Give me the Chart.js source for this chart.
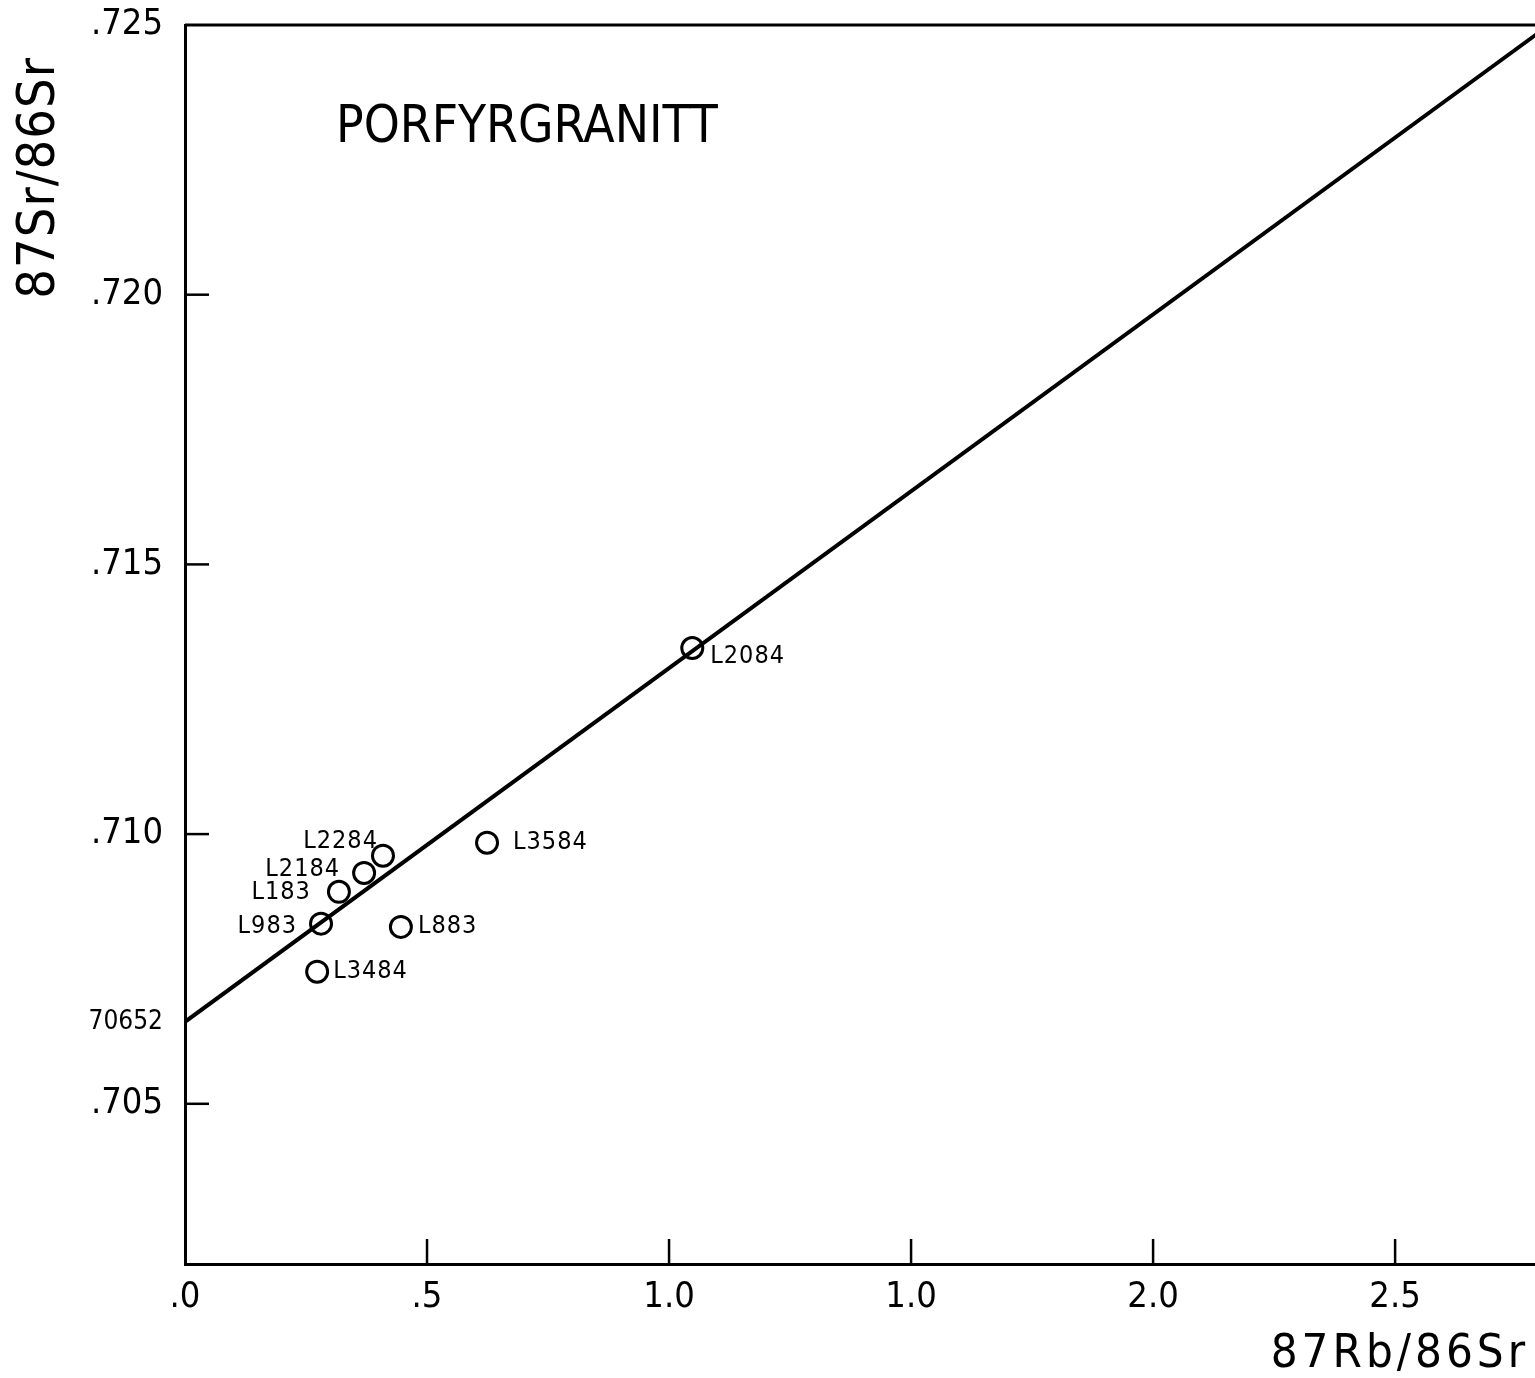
<!DOCTYPE html>
<html lang="no">
<head>
<meta charset="UTF-8">
<title>Porfyrgranitt isokron</title>
<script src="https://cdn.jsdelivr.net/npm/chart.js"></script>
<style>
  html, body { margin: 0; padding: 0; background: #fff; }
  #wrap { width: 1535px; height: 1378px; }
</style>
</head>
<body>
<div id="wrap"><canvas id="isochron" width="1535" height="1378"></canvas></div>
<script>
// Prøvedata
const sampleNames = ['L2084', 'L3584', 'L2284', 'L2184', 'L183', 'L983', 'L883', 'L3484'];
const rbSr = [1.048, 0.624, 0.409, 0.370, 0.318, 0.281, 0.446, 0.273];
const srSr = [0.71345, 0.70984, 0.70960, 0.70928, 0.70893, 0.70834, 0.70828, 0.70745];

// Isokronlinje
const isochronX = [0, 2.8];
const isochronY = [0.70652, 0.72488];

// Akseinndeling
const xTickValues = [0, 0.5, 1.0, 1.5, 2.0, 2.5];
const xTickLabels = ['.0', '.5', '1.0', '1.0', '2.0', '2.5'];
const yTickValues = [0.705, 0.70652, 0.710, 0.715, 0.720, 0.725];
const yTickLabels = ['.705', '70652', '.710', '.715', '.720', '.725'];

const FONT = "'DejaVu Sans Condensed', 'DejaVu Sans', sans-serif";
Chart.defaults.font.family = FONT;
Chart.defaults.color = '#000';

// hvor etikettene står i forhold til punktet
const labelPlace = {
    L2084: { dx: 18, dy: 8, align: 'left' },
    L3584: { dx: 26, dy: 0, align: 'left' },
    L2284: { dx: -5, dy: -14, align: 'right' },
    L2184: { dx: -24, dy: -3, align: 'right' },
    L183:  { dx: -28, dy: 1, align: 'right' },
    L983:  { dx: -24, dy: 3, align: 'right' },
    L883:  { dx: 17, dy: 0, align: 'left' },
    L3484: { dx: 16, dy: 0, align: 'left' }
};

const extras = {
    id: 'extras',
    afterDraw(chart) {
        const ctx = chart.ctx;
        const a = chart.chartArea;
        const xs = chart.scales.x, ys = chart.scales.y;
        ctx.save();
        ctx.strokeStyle = '#000';
        ctx.fillStyle = '#000';

        // øvre ramme
        ctx.lineWidth = 3;
        ctx.beginPath();
        ctx.moveTo(a.left, a.top);
        ctx.lineTo(a.right, a.top);
        ctx.stroke();

        // tick-merker innover
        ctx.lineWidth = 2.5;
        xTickValues.forEach((v, i) => {
            if (i === 0) return;
            const px = xs.getPixelForValue(v);
            ctx.beginPath();
            ctx.moveTo(px, a.bottom);
            ctx.lineTo(px, a.bottom - 25);
            ctx.stroke();
        });
        yTickValues.forEach((v, i) => {
            if (i === 1 || i === yTickValues.length - 1) return;
            const py = ys.getPixelForValue(v);
            ctx.beginPath();
            ctx.moveTo(a.left, py);
            ctx.lineTo(a.left + 24, py);
            ctx.stroke();
        });

        // prøvenavn
        const meta = chart.getDatasetMeta(1);
        ctx.font = '25px ' + FONT;
        ctx.letterSpacing = '1px';
        ctx.textBaseline = 'middle';
        meta.data.forEach((pt, i) => {
            const name = sampleNames[i];
            const p = labelPlace[name];
            ctx.textAlign = p.align;
            ctx.fillText(name, pt.x + p.dx, pt.y + p.dy);
        });

        // tittel
        ctx.font = '51px ' + FONT;
        ctx.letterSpacing = '0px';
        ctx.textAlign = 'left';
        ctx.textBaseline = 'alphabetic';
        ctx.fillText('PORFYRGRANITT', 336, 142);

        // aksetitler
        ctx.font = '47px ' + FONT;
        ctx.letterSpacing = '4px';
        ctx.textAlign = 'right';
        ctx.fillText('87Rb/86Sr', 1529, 1367);

        ctx.font = '52px ' + FONT;
        ctx.letterSpacing = '1px';
        ctx.translate(54, 58);
        ctx.rotate(-Math.PI / 2);
        ctx.textAlign = 'right';
        ctx.fillText('87Sr/86Sr', 1, 0);
        ctx.restore();
    }
};

new Chart(document.getElementById('isochron'), {
    data: {
        datasets: [
            {
                type: 'line',
                data: isochronX.map((x, i) => ({ x: x, y: isochronY[i] })),
                borderColor: '#000',
                borderWidth: 4,
                pointRadius: 0,
                fill: false,
                order: 2
            },
            {
                type: 'scatter',
                data: rbSr.map((x, i) => ({ x: x, y: srSr[i] })),
                pointRadius: 10.5,
                pointBorderWidth: 3,
                pointBackgroundColor: 'rgba(0,0,0,0)',
                pointBorderColor: '#000',
                order: 1
            }
        ]
    },
    options: {
        responsive: false,
        devicePixelRatio: 1,
        animation: false,
        layout: { autoPadding: false, padding: { top: 25, right: 0, bottom: 0, left: 0 } },
        plugins: {
            legend: { display: false },
            tooltip: { enabled: false }
        },
        scales: {
            x: {
                type: 'linear',
                min: 0,
                max: 2.789,
                afterBuildTicks: s => { s.ticks = xTickValues.map(v => ({ value: v })); },
                afterFit: s => { s.height = 114; },
                grid: { display: false, drawTicks: false },
                border: { display: true, color: '#000', width: 3 },
                ticks: {
                    padding: 12,
                    maxRotation: 0,
                    autoSkip: false,
                    font: { size: 36 },
                    callback: (v, i) => xTickLabels[i]
                }
            },
            y: {
                type: 'linear',
                min: 0.70203,
                max: 0.725,
                afterBuildTicks: s => { s.ticks = yTickValues.map(v => ({ value: v })); },
                afterFit: s => {
                    s.width = 185;
                    // ikke reserver plass over/under for tick-tekst
                    s.paddingTop = 0;
                    s.paddingBottom = 0;
                },
                grid: { display: false, drawTicks: false },
                border: { display: true, color: '#000', width: 3 },
                ticks: {
                    padding: 22,
                    autoSkip: false,
                    font: c => (c.index === 1 ? { size: 26 } : { size: 36 }),
                    callback: (v, i) => yTickLabels[i]
                }
            }
        }
    },
    plugins: [extras]
});
</script>
</body>
</html>
